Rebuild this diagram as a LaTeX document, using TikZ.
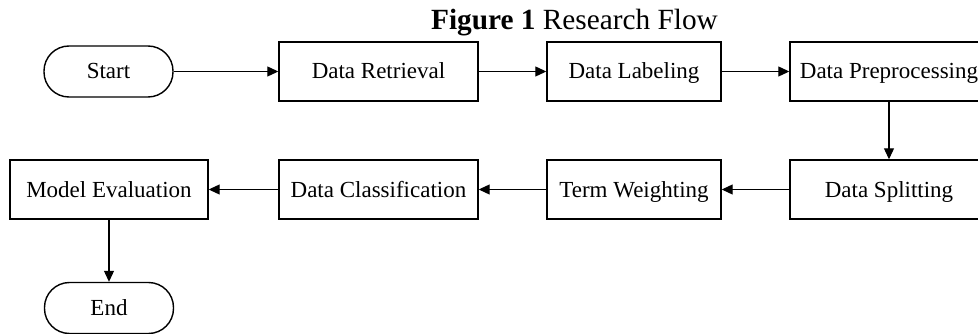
\documentclass[tikz,border=0pt]{standalone}
\usepackage{fontspec}
\setmainfont{Liberation Serif}
\usetikzlibrary{arrows.meta}
\tikzset{
  boxnode/.style={draw, line width=1.4pt, rectangle, inner sep=0pt, minimum height=59pt,
    font=\fontsize{23}{27}\selectfont, text height=15pt, text depth=0pt},
  termnode/.style={draw, line width=1.4pt, rectangle, rounded corners=25pt, inner sep=0pt,
    minimum width=129pt, minimum height=51pt,
    font=\fontsize{23}{27}\selectfont, text height=15pt, text depth=0pt},
  flow/.style={line width=1.1pt, -{Triangle[length=11pt,width=10pt]}}
}
\begin{document}
\begin{tikzpicture}[x=1pt,y=-1pt]
\useasboundingbox (0,0) rectangle (978,334);
\clip (0,0) rectangle (978,334);
\node[anchor=base, font=\fontsize{29.3}{34}\selectfont] (title) at (574.5,30) {\textbf{Figure 1} Research Flow};
\node[termnode] (start) at (108.5,71.5) {Start};
\node[boxnode, minimum width=199pt] (retr) at (378.5,71.5) {Data Retrieval};
\node[boxnode, minimum width=174pt] (label) at (634,71.5) {Data Labeling};
\node[boxnode, minimum width=198pt] (prep) at (889,71.5) {Data Preprocessing};
\node[boxnode, minimum width=198pt] (split) at (889,189.5) {Data Splitting};
\node[boxnode, minimum width=174pt] (term) at (634,189.5) {Term Weighting};
\node[boxnode, minimum width=199pt] (class) at (378.5,189.5) {Data Classification};
\node[boxnode, minimum width=198pt] (eval) at (109,189.5) {Model Evaluation};
\node[termnode] (end) at (109,308) {End};
\draw[flow] (start) -- (retr);
\draw[flow] (retr) -- (label);
\draw[flow] (label) -- (prep);
\draw[flow] (prep) -- (split);
\draw[flow] (split) -- (term);
\draw[flow] (term) -- (class);
\draw[flow] (class) -- (eval);
\draw[flow] (eval) -- (end);
\end{tikzpicture}
\end{document}
